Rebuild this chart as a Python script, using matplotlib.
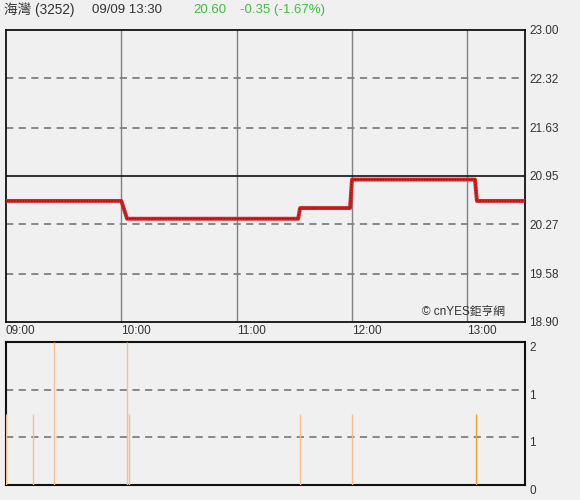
import matplotlib
matplotlib.use("Agg")
import matplotlib.pyplot as plt

plt.rcParams["font.family"] = ["Liberation Sans", "Noto Sans CJK TC", "DejaVu Sans"]

# minutes after 09:00
price_times = [0, 60, 63, 152, 153, 179, 180, 244, 245, 270]
price_values = [20.60, 20.60, 20.35, 20.35, 20.50, 20.50, 20.90, 20.90, 20.60, 20.60]
prev_close = 20.95

vol_times = [0, 14, 25, 63, 64, 153, 180, 244.5]
vol_values = [1, 1, 2, 2, 1, 1, 1, 1]
vol_colors = ["#f6bf8c"] * 7 + ["#f0a22a"]

price_ticks = [18.90, 19.58, 20.27, 20.95, 21.63, 22.32, 23.00]
time_ticks = [0, 60, 120, 180, 240]
time_labels = ["09:00", "10:00", "11:00", "12:00", "13:00"]
vol_ticks = [0, 2 / 3, 4 / 3, 2]
vol_labels = ["0", "1", "1", "2"]

BG = "#f0f0f0"
GRID = "#808080"

fig = plt.figure(figsize=(5.8, 5.0), dpi=100, facecolor=BG)
ax = fig.add_axes([0.0103, 0.356, 0.8948, 0.584], facecolor=BG)
ax2 = fig.add_axes([0.0103, 0.03, 0.8948, 0.286], facecolor=BG)

# price panel
ax.set_xlim(0, 270)
ax.set_ylim(18.90, 23.00)
for t in time_ticks[1:]:
    ax.axvline(t, color=GRID, lw=1, zorder=1)
for p in price_ticks[1:-1]:
    if p == prev_close:
        ax.axhline(p, color="#222222", lw=1.3, zorder=1)
    else:
        ax.axhline(p, color=GRID, lw=1.3, ls=(0, (4, 3)), zorder=1)
ax.plot(price_times, price_values, color="#d42424", lw=2.8, zorder=3)
ax.plot(price_times, price_values, color="#9a1010", lw=1, ls=(0, (1, 1)), zorder=4)

ax.set_yticks(price_ticks)
ax.set_yticklabels([f"{p:.2f}" for p in price_ticks])
ax.yaxis.tick_right()
ax.set_xticks(time_ticks)
ax.set_xticklabels(time_labels, ha="left")
ax.tick_params(axis="both", length=0, labelsize=8.5, colors="#333333")
ax.tick_params(axis="y", pad=3)
ax.tick_params(axis="x", pad=2)
for s in ax.spines.values():
    s.set_color("#111111")
    s.set_linewidth(1.3)

ax.text(0.962, 0.012, "© cnYES鉅亨網", transform=ax.transAxes, ha="right", va="bottom",
        fontsize=8.5, color="#333333", zorder=5)

# volume panel
ax2.set_xlim(0, 270)
ax2.set_ylim(0, 2)
for v in vol_ticks[1:-1]:
    ax2.axhline(v, color=GRID, lw=1.3, ls=(0, (4, 3)), zorder=1)
ax2.vlines(vol_times, 0, vol_values, colors=vol_colors, lw=1, zorder=3)
ax2.set_xticks([])
ax2.set_yticks(vol_ticks)
ax2.set_yticklabels(vol_labels)
ax2.yaxis.tick_right()
ax2.tick_params(axis="y", length=0, labelsize=8.5, colors="#333333", pad=3)
for lbl in ax2.get_yticklabels():
    lbl.set_verticalalignment("top")
for s in ax2.spines.values():
    s.set_color("#111111")
    s.set_linewidth(1.5)

# header
fig.text(0.007, 0.98, "海灣 (3252)", fontsize=9.8, color="#333333", va="center")
fig.text(0.158, 0.98, "09/09 13:30", fontsize=9.5, color="#333333", va="center")
fig.text(0.333, 0.98, "20.60", fontsize=9.5, color="#44bb44", va="center")
fig.text(0.414, 0.98, "-0.35 (-1.67%)", fontsize=9.5, color="#44bb44", va="center")

fig.savefig("out.png", dpi=100, facecolor=BG)
